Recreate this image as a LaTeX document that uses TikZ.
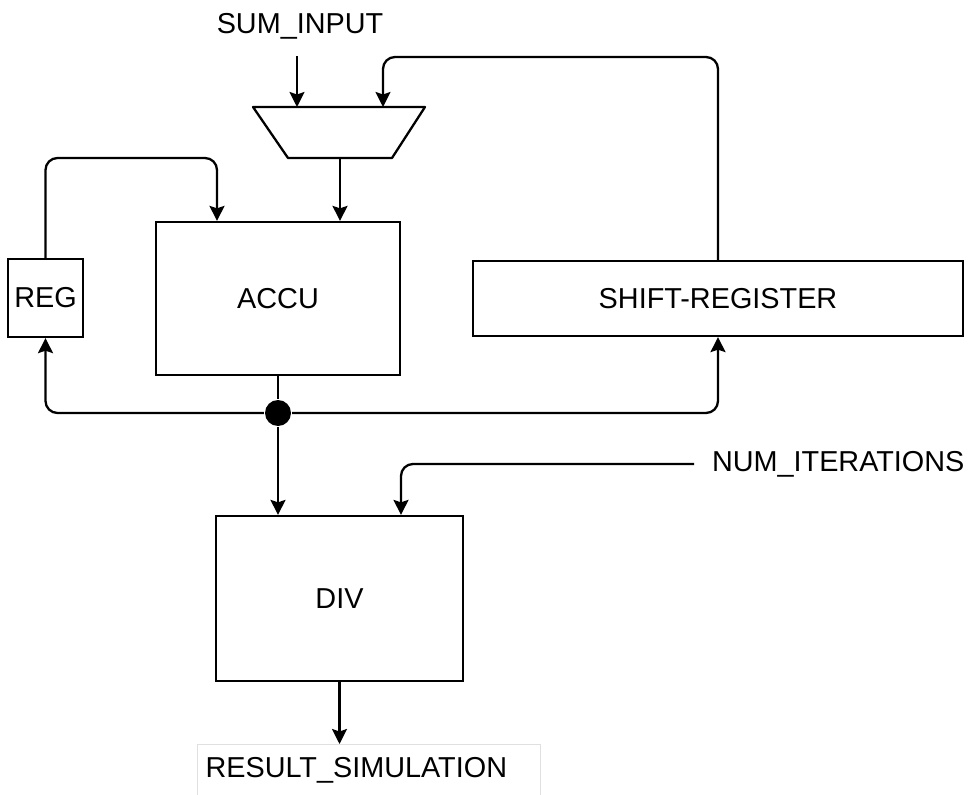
\documentclass[tikz,border=0pt]{standalone}
\usepackage{fontspec}
\setmainfont{Liberation Sans}
\usetikzlibrary{arrows.meta,positioning}

\begin{document}
\begin{tikzpicture}[x=0.02cm, y=-0.02cm, line width=1.3pt,
  every node/.style={font=\fontsize{16.4}{19}\selectfont},
  block/.style={draw, rectangle, fill=white, inner sep=0pt},
  arr/.style={-{Stealth[length=0.3cm, width=0.3cm, inset=0.05cm]}, rounded corners=0.24cm}]
  \useasboundingbox (0,0) rectangle (973,794);

  % blocks
  \node[block, minimum width=1.5cm, minimum height=1.56cm] (reg) at (45.5,298) {REG};
  \node[block, minimum width=4.88cm, minimum height=3.06cm] (accu) at (278,298.5) {ACCU};
  \node[block, minimum width=9.8cm, minimum height=1.5cm] (shift) at (718,298.5) {SHIFT-REGISTER};
  \node[block, minimum width=4.94cm, minimum height=3.3cm] (div) at (339.5,598.5) {DIV};
  \node[circle, fill, minimum size=0.52cm, inner sep=0pt] (tap) at (278,413) {};

  % mux
  \coordinate (muxin1) at (297,107);
  \coordinate (muxin2) at (383,107);
  \coordinate (muxout) at (340,158);
  \draw[fill=white, line join=round] (253,107) -- (425,107) -- (392,158) -- (288,158) -- cycle;

  % labels
  \node (sumin) at (300,26) {SUM\_INPUT};
  \node[anchor=west] (numit) at (705,464) {NUM\_ITERATIONS};
  \node[draw=black!12, line width=0.6pt, anchor=north west, inner xsep=0.16cm, inner ysep=0.26cm,
        text width=6.54cm, align=left, text depth=1cm] (result) at (197,744) {RESULT\_SIMULATION};

  % mux inputs
  \coordinate (sumtop) at (297,56);
  \coordinate (fbk) at (383,57);
  \draw[arr] (sumtop) -- (muxin1);
  \draw[arr] (shift.north) |- (fbk) -- (muxin2);
  \draw[arr] (muxout) -- (muxout |- accu.north);

  % loop through REG
  \coordinate (regtop) at (217,158);
  \draw[arr] (reg.north) |- (regtop) -- (regtop |- accu.north);

  % ACCU output
  \draw (accu.south) -- (tap);
  \draw[arr] (tap) -- (tap |- div.north);
  \draw[arr] (tap) -| (reg.south);
  \draw[arr] (tap) -| (shift.south);

  % DIV
  \draw[arr, shorten <=0.22cm] (numit.west) -| ([xshift=1.23cm]div.north);
  \draw[arr] (div.south) -- (div.south |- result.north);
\end{tikzpicture}
\end{document}
